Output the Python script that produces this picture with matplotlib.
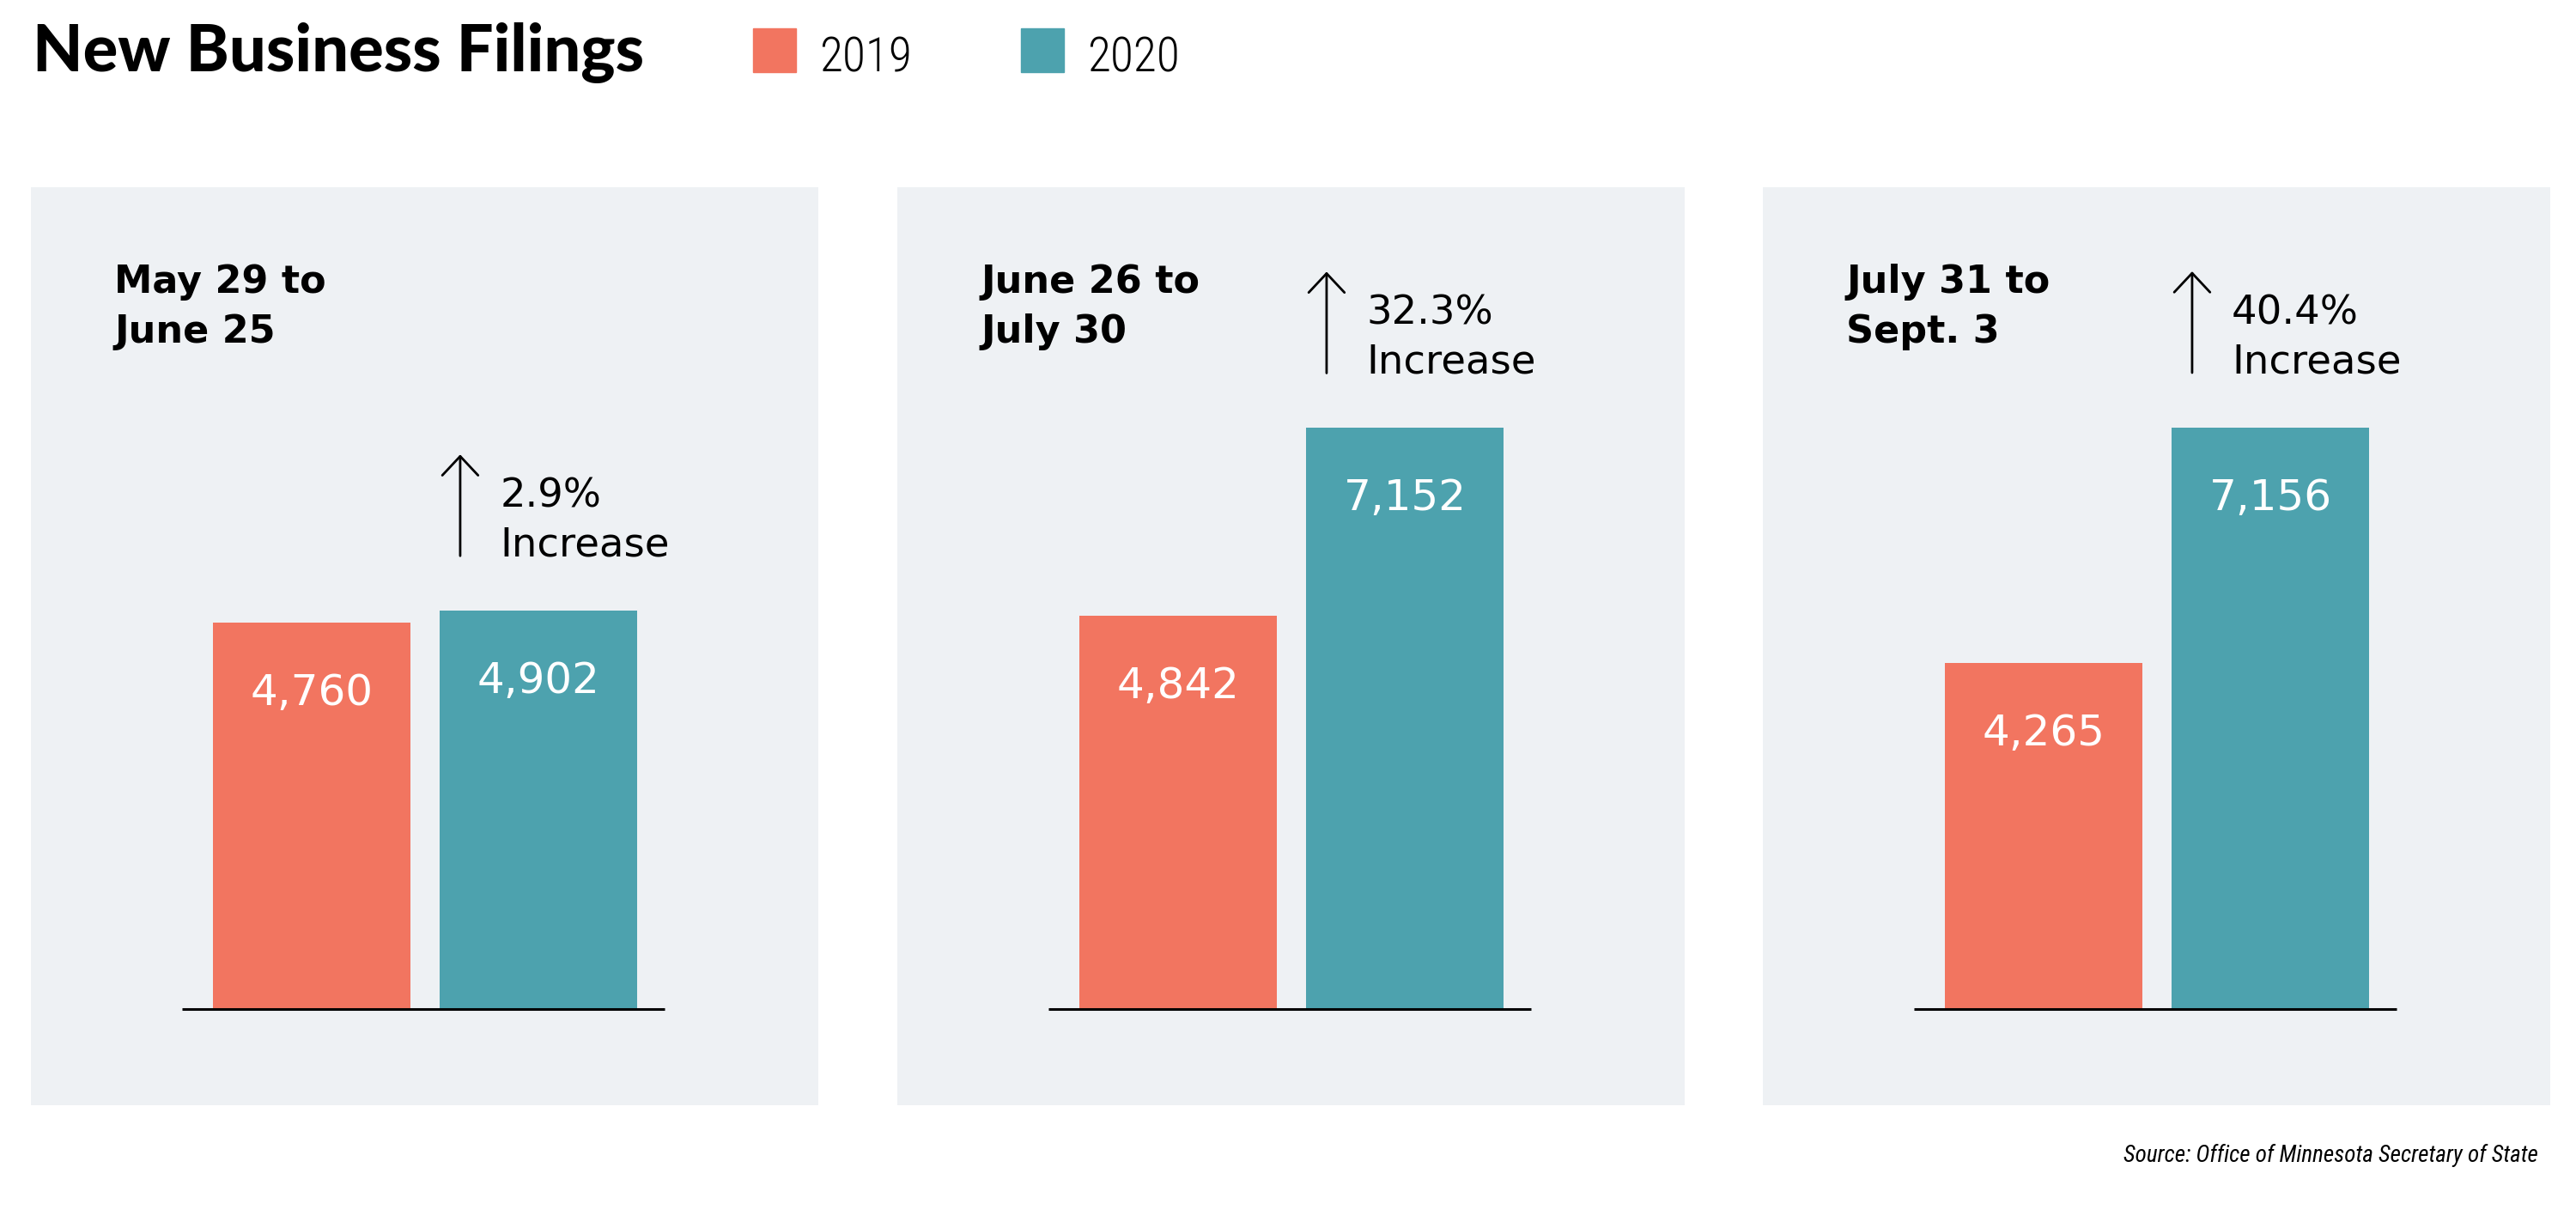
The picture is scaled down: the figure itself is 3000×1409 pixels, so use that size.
import matplotlib
matplotlib.use('Agg')
import matplotlib.pyplot as plt
from matplotlib.patches import Rectangle

############################################################
# Data

periods = [['May 29 to', 'June 25'],
           ['June 26 to', 'July 30'],
           ['July 31 to', 'Sept. 3']]
filings_2019 = [4760, 4842, 4265]
filings_2020 = [4902, 7152, 7156]
increase = ['2.9%', '32.3%', '40.4%']
years = ['2019', '2020']

############################################################
# Style

c_2019 = '#F27560'
c_2020 = '#4DA2AE'
panel_bg = '#EEF1F4'
W, H = 3000, 1409

fig = plt.figure(figsize=(W / 100, H / 100), dpi=100)
fig.patch.set_facecolor('white')

# title + legend
fig.text(38 / W, 1 - 83 / H, 'New Business Filings', fontsize=54.5,
         family='Lato', weight='black', va='baseline', ha='left')
leg_x = [877, 1189]
for i in range(2):
    col = [c_2019, c_2020][i]
    fig.patches.append(Rectangle((leg_x[i] / W, 1 - 84 / H), 50 / W, 51 / H,
                                 transform=fig.transFigure, color=col))
    fig.text((leg_x[i] + 77) / W, 1 - 83 / H, years[i], fontsize=40,
             family=['Roboto Condensed', 'DejaVu Sans'], weight='light',
             va='baseline', ha='left')

fig.text(2956 / W, 1 - 1353 / H, 'Source: Office of Minnesota Secretary of State',
         fontsize=19.5, style='italic', family=['Roboto Condensed', 'DejaVu Sans'],
         ha='right', va='baseline')

############################################################
# Panels

panel_left = [36, 1045, 2053]
pw, ph, ptop = 917, 1069, 218
ymin, ymax = -1184, 10116
px = (ymax - ymin) / ph   # data units per pixel

for i in range(3):
    ax = fig.add_axes([panel_left[i] / W, 1 - (ptop + ph) / H, pw / W, ph / H])
    ax.set_facecolor(panel_bg)
    for s in ax.spines.values():
        s.set_visible(False)
    ax.set_xticks([])
    ax.set_yticks([])
    ax.set_xlim(-1.239, 2.235)
    ax.set_ylim(ymin, ymax)

    vals = [filings_2019[i], filings_2020[i]]
    ax.bar([0, 1], vals, width=0.871, color=[c_2019, c_2020], zorder=2)
    ax.plot([-0.572, 1.557], [0, 0], color='black', lw=2.2, zorder=3,
            solid_capstyle='butt')

    for j in range(2):
        ax.text(j, vals[j] - 96 * px, format(vals[j], ','), color='white',
                fontsize=36, ha='center', va='baseline', zorder=4)

    # period header
    for k, line in enumerate(periods[i]):
        ax.text(0.106, 0.885 - k * 58 / ph, line, transform=ax.transAxes,
                fontsize=32, weight='bold', ha='left', va='baseline')

    # increase annotation
    base = vals[1] + 64 * px
    ax.annotate('', xy=(0.655, base + 118 * px), xytext=(0.655, base),
                arrowprops=dict(arrowstyle='->,head_length=0.8,head_width=0.75',
                                lw=2, color='black', shrinkA=0, shrinkB=0,
                                mutation_scale=20))
    ax.text(0.83, base + 57 * px, increase[i], fontsize=33.5,
            ha='left', va='baseline')
    ax.text(0.83, base, 'Increase', fontsize=33.5, ha='left', va='baseline')

plt.savefig('out.png', dpi=100, facecolor='white')
